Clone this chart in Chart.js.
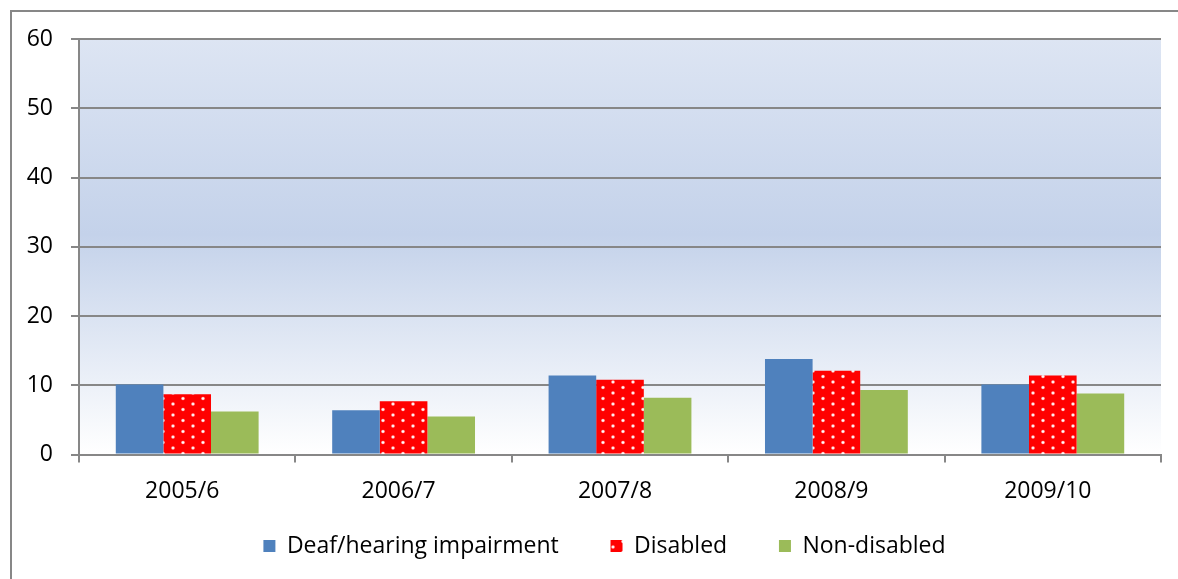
<!DOCTYPE html>
<html>
<head>
<meta charset="utf-8">
<script src="https://cdn.jsdelivr.net/npm/chart.js@4"></script>
<style>
html,body{margin:0;padding:0;background:#fff;}
#wrap{width:1178px;height:579px;position:relative;}
</style>
</head>
<body>
<div id="wrap"><canvas id="mainChart"></canvas></div>
<script>
"use strict";
// 数据
const years=["2005/6","2006/7","2007/8","2008/9","2009/10"];
const deafValues=[10.1,6.4,11.4,13.8,10.1];
const disabledValues=[8.7,7.7,10.8,12.1,11.4];
const nonDisabledValues=[6.2,5.5,8.2,9.3,8.8];
const seriesNames=["Deaf/hearing impairment","Disabled","Non-disabled"];
const yTicks=[0,10,20,30,40,50,60];

const FONT="'Open Sans', sans-serif";
const GRID="#878787";

// 红底白点的填充图案
function makeDots(){
    const c=document.createElement("canvas");
    c.width=20;c.height=11;
    const g=c.getContext("2d");
    g.fillStyle="#ff0000";
    g.fillRect(0,0,20,11);
    const dot=(x,y)=>{
        g.fillStyle="rgba(255,200,200,0.9)";
        g.beginPath();g.arc(x,y,1.8,0,Math.PI*2);g.fill();
        g.fillStyle="#ffffff";
        g.beginPath();g.arc(x,y,1.0,0,Math.PI*2);g.fill();
    };
    dot(3,2.5);dot(13,8);
    return g.createPattern(c,"repeat");
}
const dots=makeDots();

// 绘图区渐变背景 + 外框
const backdrop={
    id:"backdrop",
    beforeDraw(chart){
        const {ctx,chartArea:a}=chart;
        const grad=ctx.createLinearGradient(0,a.top,0,a.bottom);
        grad.addColorStop(0,"#dde5f3");
        grad.addColorStop(0.47,"#c4d2ea");
        grad.addColorStop(1,"#ffffff");
        ctx.save();
        ctx.fillStyle=grad;
        ctx.fillRect(a.left,a.top,a.right-a.left,a.bottom-a.top);
        ctx.strokeStyle=GRID;
        ctx.lineWidth=2;
        ctx.beginPath();
        ctx.moveTo(11,chart.height);
        ctx.lineTo(11,11);
        ctx.lineTo(chart.width,11);
        ctx.stroke();
        ctx.restore();
    }
};

// 原图的外框比截图更宽，图例是按外框居中的，这里往右挪一点
const legendShift={
    id:"legendShift",
    afterLayout(chart){
        if(chart.legend)chart.legend.left=48;
    }
};

const data={
    labels:years,
    datasets:[
        {label:seriesNames[0],data:deafValues,backgroundColor:"#4f81bd"},
        {label:seriesNames[1],data:disabledValues,backgroundColor:dots},
        {label:seriesNames[2],data:nonDisabledValues,backgroundColor:"#9bbb59"}
    ]
};

const options={
    responsive:true,
    maintainAspectRatio:false,
    animation:false,
    layout:{padding:{top:39,right:17,bottom:11.5,left:0}},
    datasets:{bar:{categoryPercentage:0.66,barPercentage:1}},
    scales:{
        x:{
            grid:{drawOnChartArea:false,drawTicks:true,tickLength:8,color:GRID,lineWidth:2,offset:true},
            border:{color:GRID,width:2},
            ticks:{color:"#000",font:{family:FONT,size:23},padding:15,labelOffset:-5},
            afterFit(s){s.height=70;}
        },
        y:{
            min:0,max:60,
            afterBuildTicks(s){s.ticks=yTicks.map(v=>({value:v}));},
            grid:{color:GRID,lineWidth:2,tickLength:8},
            border:{color:GRID,width:2},
            ticks:{color:"#000",font:{family:FONT,size:23},padding:18},
            afterFit(s){s.width=79;}
        }
    },
    plugins:{
        legend:{
            position:"bottom",
            labels:{
                boxWidth:12,boxHeight:12,padding:10,
                color:"#000",
                font:{family:FONT,size:23},
                //图例项之间留出更大的间距（垂直方向的padding保持不变）
                generateLabels(chart){
                    const items=Chart.defaults.plugins.legend.labels.generateLabels(chart);
                    items.forEach((it,i)=>{
                        if(i<items.length-1)it.text+="       ";
                    });
                    return items;
                }
            }
        },
        tooltip:{enabled:false}
    }
};

new Chart(document.getElementById("mainChart"),{type:"bar",data,options,plugins:[backdrop,legendShift]});
</script>
</body>
</html>
